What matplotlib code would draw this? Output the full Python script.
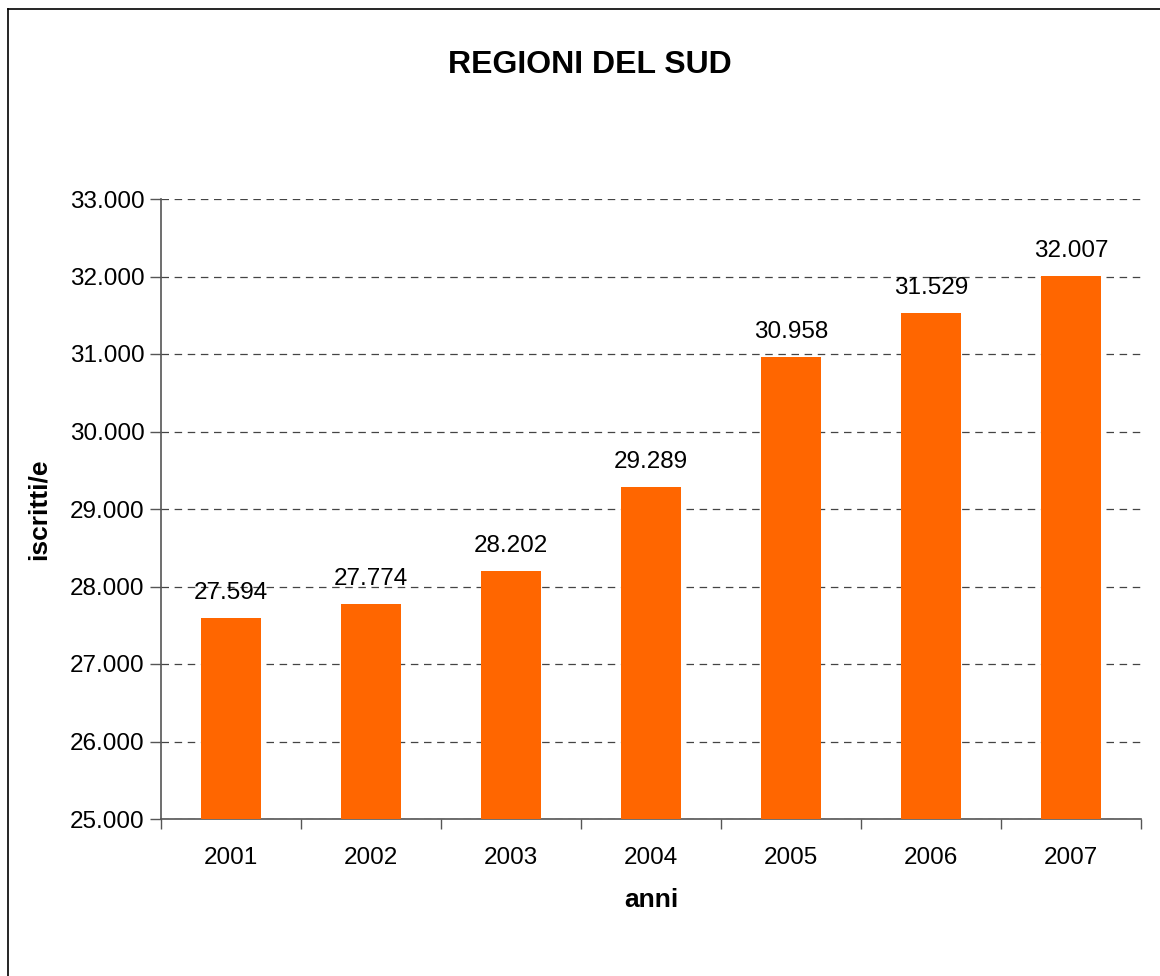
import matplotlib.pyplot as plt
from matplotlib.lines import Line2D

plt.rcParams['font.family'] = ['Liberation Sans', 'DejaVu Sans']

# Dati
anni = ['2001', '2002', '2003', '2004', '2005', '2006', '2007']
iscritti = [27594, 27774, 28202, 29289, 30958, 31529, 32007]


def fmt_it(v):
    # separatore delle migliaia all'italiana
    return f'{v:,.0f}'.replace(',', '.')


W, H = 1160, 976
fig = plt.figure(figsize=(W / 100, H / 100), dpi=100)
ax = fig.add_axes([161 / W, 1 - 819 / H, 980 / W, 620 / H])

x = range(len(anni))
ax.bar(x, iscritti, width=0.435, color='#FF6600', zorder=3)

ax.set_ylim(25000, 33000)
ax.set_xlim(-0.5, len(anni) - 0.5)
ax.set_yticks(range(25000, 33001, 1000))
ax.set_yticklabels([fmt_it(v) for v in range(25000, 33001, 1000)])

# etichette categorie centrate, tacche sui confini
ax.set_xticks(list(x))
ax.set_xticklabels(anni)
ax.set_xticks([i - 0.5 for i in range(len(anni) + 1)], minor=True)
ax.tick_params(axis='x', which='major', length=0, pad=20, labelsize=17.5)
ax.tick_params(axis='x', which='minor', length=7, width=1, direction='out', color='#555555')
ax.tick_params(axis='y', length=8, width=1, direction='out', color='#555555', pad=4, labelsize=17.5)

for s in ['top', 'right']:
    ax.spines[s].set_visible(False)
for s in ['left', 'bottom']:
    ax.spines[s].set_color('#555555')
    ax.spines[s].set_linewidth(1.2)

ax.yaxis.grid(True, linestyle=(0, (6, 4.5)), color='#444444', linewidth=0.9, zorder=1)
ax.set_axisbelow(True)

for i, v in zip(x, iscritti):
    ax.annotate(fmt_it(v), (i, v), xytext=(0, 10), textcoords='offset points',
                ha='center', va='bottom', fontsize=17.5)

ax.set_xlabel('anni', fontsize=19, fontweight='bold', labelpad=14)
ax.set_ylabel('iscritti/e', fontsize=19, fontweight='bold', labelpad=14)

fig.text(590 / W, 1 - 65 / H, 'REGIONI DEL SUD', ha='center', va='center',
         fontsize=23, fontweight='bold')

# cornice esterna (visibile solo a sinistra e in alto)
fig.add_artist(Line2D([7.5 / W, 7.5 / W], [0, 1 - 9 / H], color='black', linewidth=1.2))
fig.add_artist(Line2D([7.5 / W, 1], [1 - 9 / H, 1 - 9 / H], color='black', linewidth=1.2))

fig.savefig('out.png', dpi=100)
